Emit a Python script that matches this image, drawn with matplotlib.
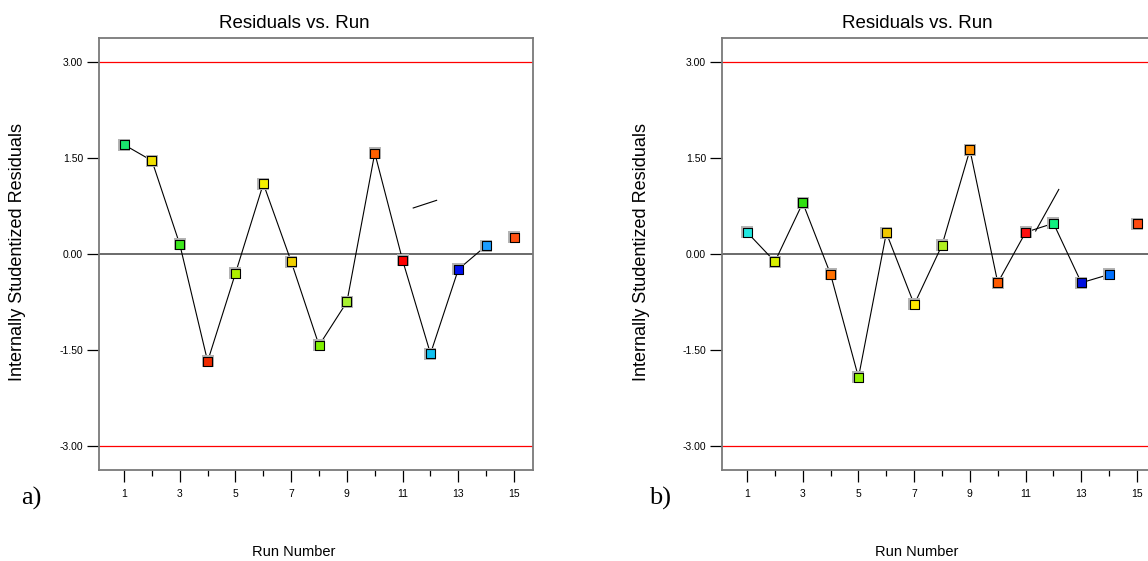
import matplotlib.pyplot as plt
from matplotlib.ticker import FixedLocator

plt.rcParams['font.family'] = ['Liberation Sans', 'DejaVu Sans']

# Data
runs = list(range(1, 16))

resid_a = [1.71, 1.46, 0.15, -1.68, -0.30, 1.10, -0.12, -1.43, -0.75, 1.58,
           -0.10, -1.56, -0.24, 0.13, 0.26]
colors_a = ['#19e66e', '#f0e000', '#3ee81e', '#f02a00', '#b0f000', '#f5f000',
            '#f0d000', '#80f000', '#a8f030', '#ff6000', '#ff0000', '#10c0f0',
            '#0010f0', '#1a9cff', '#ff5010']
stray_a_x = [11.38, 12.22]
stray_a_y = [0.72, 0.84]

resid_b = [0.34, -0.12, 0.80, -0.32, -1.93, 0.33, -0.79, 0.14, 1.63, -0.45,
           0.34, 0.48, -0.45, -0.32, 0.47]
colors_b = ['#20e8e0', '#d8f000', '#30e010', '#ff7000', '#90f000', '#f0c800',
            '#ffe800', '#b0f020', '#ff9000', '#ff5a00', '#ff1010', '#10f080',
            '#0010e0', '#0070ff', '#ff4a10']
stray_b_x = [11.36, 12.19]
stray_b_y = [0.36, 1.01]

n_connected = 14  # runs 1..14 joined by the line, run 15 stands alone
limits = [-3.0, 3.0]
yticks = [-3.0, -1.5, 0.0, 1.5, 3.0]
xticks_major = [1, 3, 5, 7, 9, 11, 13, 15]
xticks_minor = [2, 4, 6, 8, 10, 12, 14]

W, H = 1148, 561
fig = plt.figure(figsize=(W / 100, H / 100), dpi=100)


def draw_panel(left_px, resid, colors, sx, sy, letter, letter_x):
    ax = fig.add_axes([left_px / W, 91 / H, 434 / W, 432 / H])
    ax.set_xlim(0.1, 15.68)
    ax.set_ylim(-3.38, 3.38)

    for lim in limits:
        ax.axhline(lim, color='#ff0000', lw=0.9, zorder=1)
    ax.axhline(0, color='#6a6a6a', lw=1.4, zorder=1)

    ax.plot(runs[:n_connected], resid[:n_connected], color='black', lw=0.8, zorder=2)
    ax.plot(sx, sy, color='black', lw=0.8, zorder=2)

    # gray halo then coloured square
    ax.scatter(runs, resid, marker='s', s=78, color='#b4b4b4', lw=0, zorder=3)
    ax.scatter(runs, resid, marker='s', s=42, c=colors, edgecolors='black',
               linewidths=0.8, zorder=4)

    ax.yaxis.set_major_locator(FixedLocator(yticks))
    ax.set_yticklabels(['%.2f' % v for v in yticks])
    ax.xaxis.set_major_locator(FixedLocator(xticks_major))
    ax.xaxis.set_minor_locator(FixedLocator(xticks_minor))
    ax.tick_params(axis='both', which='major', direction='out', length=8.5,
                   width=0.9, labelsize=7.5, color='black', pad=3)
    ax.tick_params(axis='x', which='minor', direction='out', length=4.5, width=0.9)
    ax.tick_params(axis='x', which='major', pad=5)
    for s in ax.spines.values():
        s.set_color('#7a7a7a')
        s.set_linewidth(1.3)

    off = left_px - 99
    fig.text((294 + off) / W, 1 - 23 / H, 'Residuals vs. Run', fontsize=13.5,
             ha='center', va='center')
    fig.text((18 + off) / W, 1 - 252 / H, 'Internally Studentized Residuals',
             fontsize=13, rotation=90, ha='center', va='center')
    fig.text((294 + off) / W, 1 - 552 / H, 'Run Number', fontsize=10.5,
             ha='center', va='center')
    fig.text(letter_x / W, 1 - 498 / H, letter, fontsize=19,
             family='Liberation Serif', ha='center', va='center')
    return ax


draw_panel(99, resid_a, colors_a, stray_a_x, stray_a_y, 'a)', 31)
draw_panel(722, resid_b, colors_b, stray_b_x, stray_b_y, 'b)', 660)

plt.savefig('out.png', dpi=100)
